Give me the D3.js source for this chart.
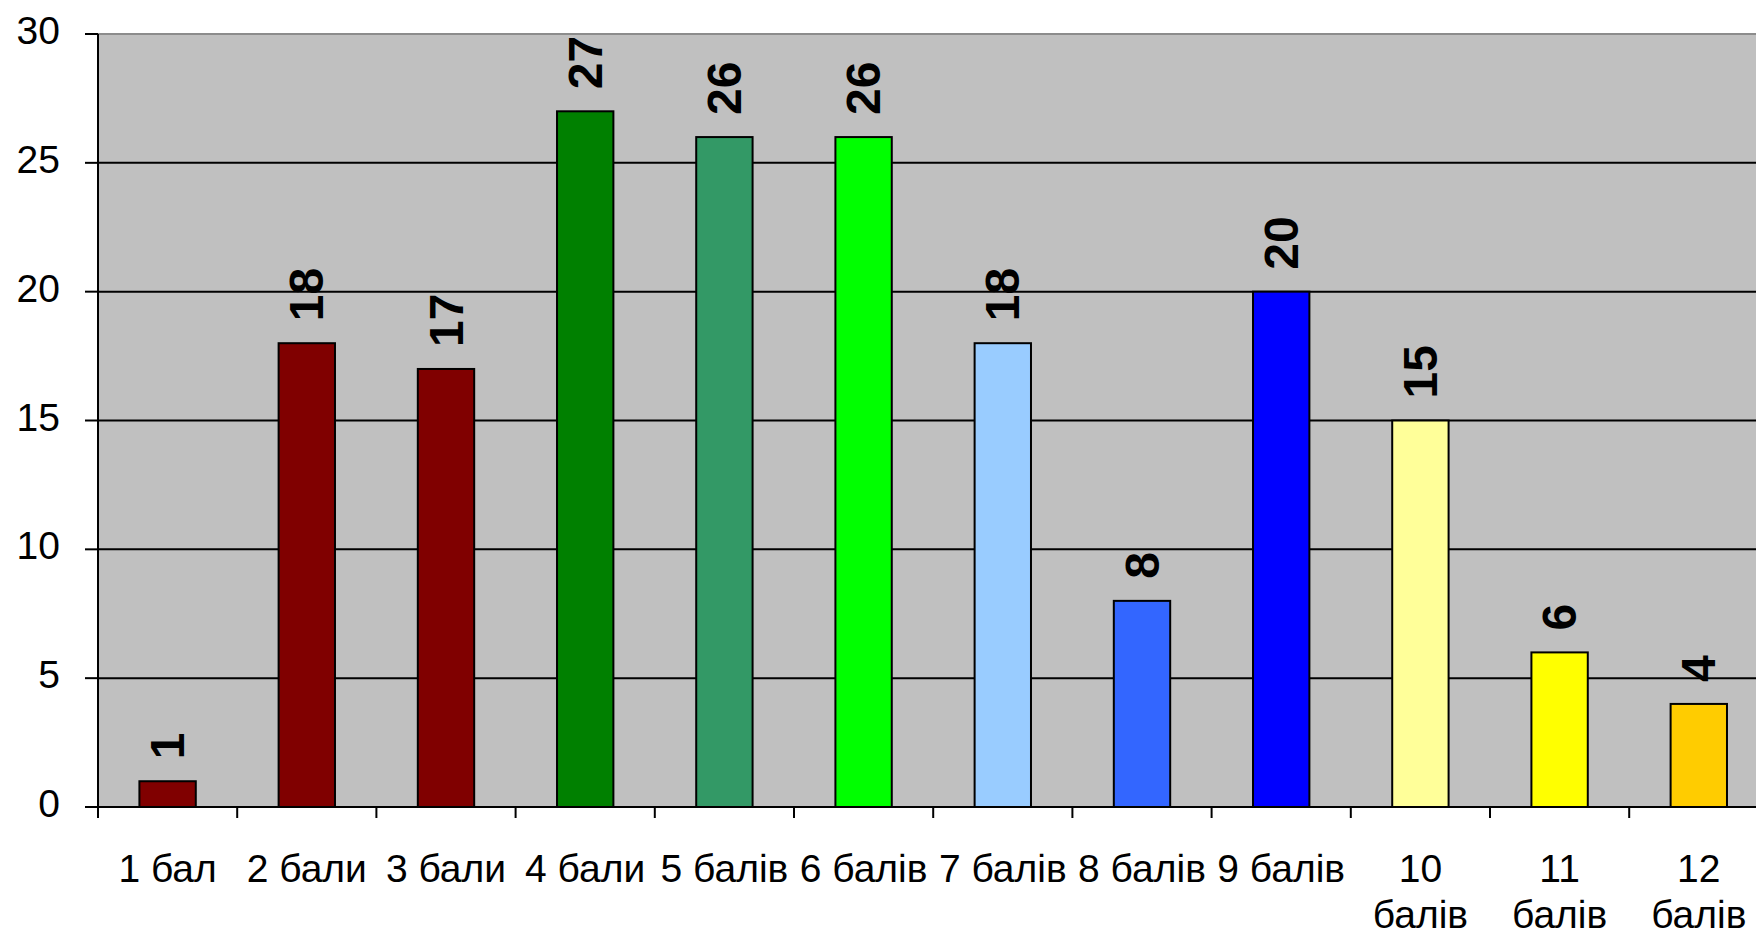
<!DOCTYPE html>
<html>
<head>
<meta charset="utf-8">
<script src="https://cdn.jsdelivr.net/npm/d3@7/dist/d3.min.js"></script>
<style>
  html, body { margin: 0; padding: 0; background: #fff; overflow: hidden; }
  svg { display: block; }
  text { font-family: "Liberation Sans", Arial, sans-serif; fill: #000; }
</style>
</head>
<body>
<svg id="chart" width="1756" height="935"></svg>
<script>
const categories = ["1 бал", "2 бали", "3 бали", "4 бали", "5 балів", "6 балів",
                    "7 балів", "8 балів", "9 балів", "10 балів", "11 балів", "12 балів"];
const values = [1, 18, 17, 27, 26, 26, 18, 8, 20, 15, 6, 4];
const barColors = ["#800000", "#800000", "#800000", "#008000", "#339966", "#00FF00",
                   "#99CCFF", "#3366FF", "#0000FF", "#FFFF99", "#FFFF00", "#FFCC00"];
const yTicks = [0, 5, 10, 15, 20, 25, 30];

(function () {
const svg = d3.select("#chart");
const pLeft = 98, pTop = 34, pBottom = 807;
const step = 139.2;
const pRight = pLeft + step * categories.length;

const x = d3.scaleBand().domain(categories).range([pLeft, pRight])
  .paddingInner(0.595).paddingOuter(0.2975);
const y = d3.scaleLinear().domain([0, 30]).range([pBottom, pTop]);

// plot background
svg.append("rect").attr("x", pLeft).attr("y", pTop)
  .attr("width", pRight - pLeft).attr("height", pBottom - pTop)
  .attr("fill", "#C0C0C0");
// top border
svg.append("line").attr("x1", pLeft).attr("x2", pRight).attr("y1", pTop).attr("y2", pTop)
  .attr("stroke", "#8c8c8c").attr("stroke-width", 2);

// gridlines
svg.append("g").selectAll("line").data(yTicks.filter(d => d > 0 && d < 30)).join("line")
  .attr("x1", pLeft).attr("x2", pRight)
  .attr("y1", d => y(d)).attr("y2", d => y(d))
  .attr("stroke", "#000").attr("stroke-width", 2);

// bars
svg.append("g").selectAll("rect").data(values).join("rect")
  .attr("x", (d, i) => x(categories[i]))
  .attr("y", d => y(d))
  .attr("width", x.bandwidth())
  .attr("height", d => y(0) - y(d))
  .attr("fill", (d, i) => barColors[i])
  .attr("stroke", "#000").attr("stroke-width", 2);

// bar value labels (rotated)
svg.append("g").selectAll("text").data(values).join("text")
  .attr("transform", (d, i) => `translate(${x(categories[i]) + x.bandwidth() / 2},${y(d) - 22}) rotate(-90)`)
  .attr("dominant-baseline", "central")
  .attr("text-anchor", "start")
  .attr("font-size", 48).attr("font-weight", "bold")
  .text(d => d);

// y axis
svg.append("line").attr("x1", pLeft).attr("x2", pLeft).attr("y1", pTop).attr("y2", pBottom)
  .attr("stroke", "#000").attr("stroke-width", 2);
const yg = svg.append("g");
yg.selectAll("line").data(yTicks).join("line")
  .attr("x1", pLeft - 13).attr("x2", pLeft)
  .attr("y1", d => y(d)).attr("y2", d => y(d))
  .attr("stroke", "#000").attr("stroke-width", 2);
yg.selectAll("text").data(yTicks).join("text")
  .attr("x", 60).attr("y", d => y(d) + 10)
  .attr("text-anchor", "end").attr("font-size", 39)
  .text(d => d);

// x axis
svg.append("line").attr("x1", pLeft).attr("x2", pRight).attr("y1", pBottom).attr("y2", pBottom)
  .attr("stroke", "#000").attr("stroke-width", 2);
const xg = svg.append("g");
xg.selectAll("line").data(d3.range(categories.length + 1)).join("line")
  .attr("x1", i => pLeft + i * x.step()).attr("x2", i => pLeft + i * x.step())
  .attr("y1", pBottom).attr("y2", pBottom + 11)
  .attr("stroke", "#000").attr("stroke-width", 2);
const labels = xg.selectAll("text").data(categories).join("text")
  .attr("x", d => x(d) + x.bandwidth() / 2)
  .attr("y", 882)
  .attr("text-anchor", "middle").attr("font-size", 39);
labels.each(function (d) {
  const t = d3.select(this);
  const cx = x(d) + x.bandwidth() / 2;
  if (d.length > 7) {
    const parts = d.split(" ");
    parts.forEach((p, k) => t.append("tspan").attr("x", cx).attr("dy", k === 0 ? 0 : 46).text(p));
  } else {
    t.text(d);
  }
});
})();
</script>
</body>
</html>
